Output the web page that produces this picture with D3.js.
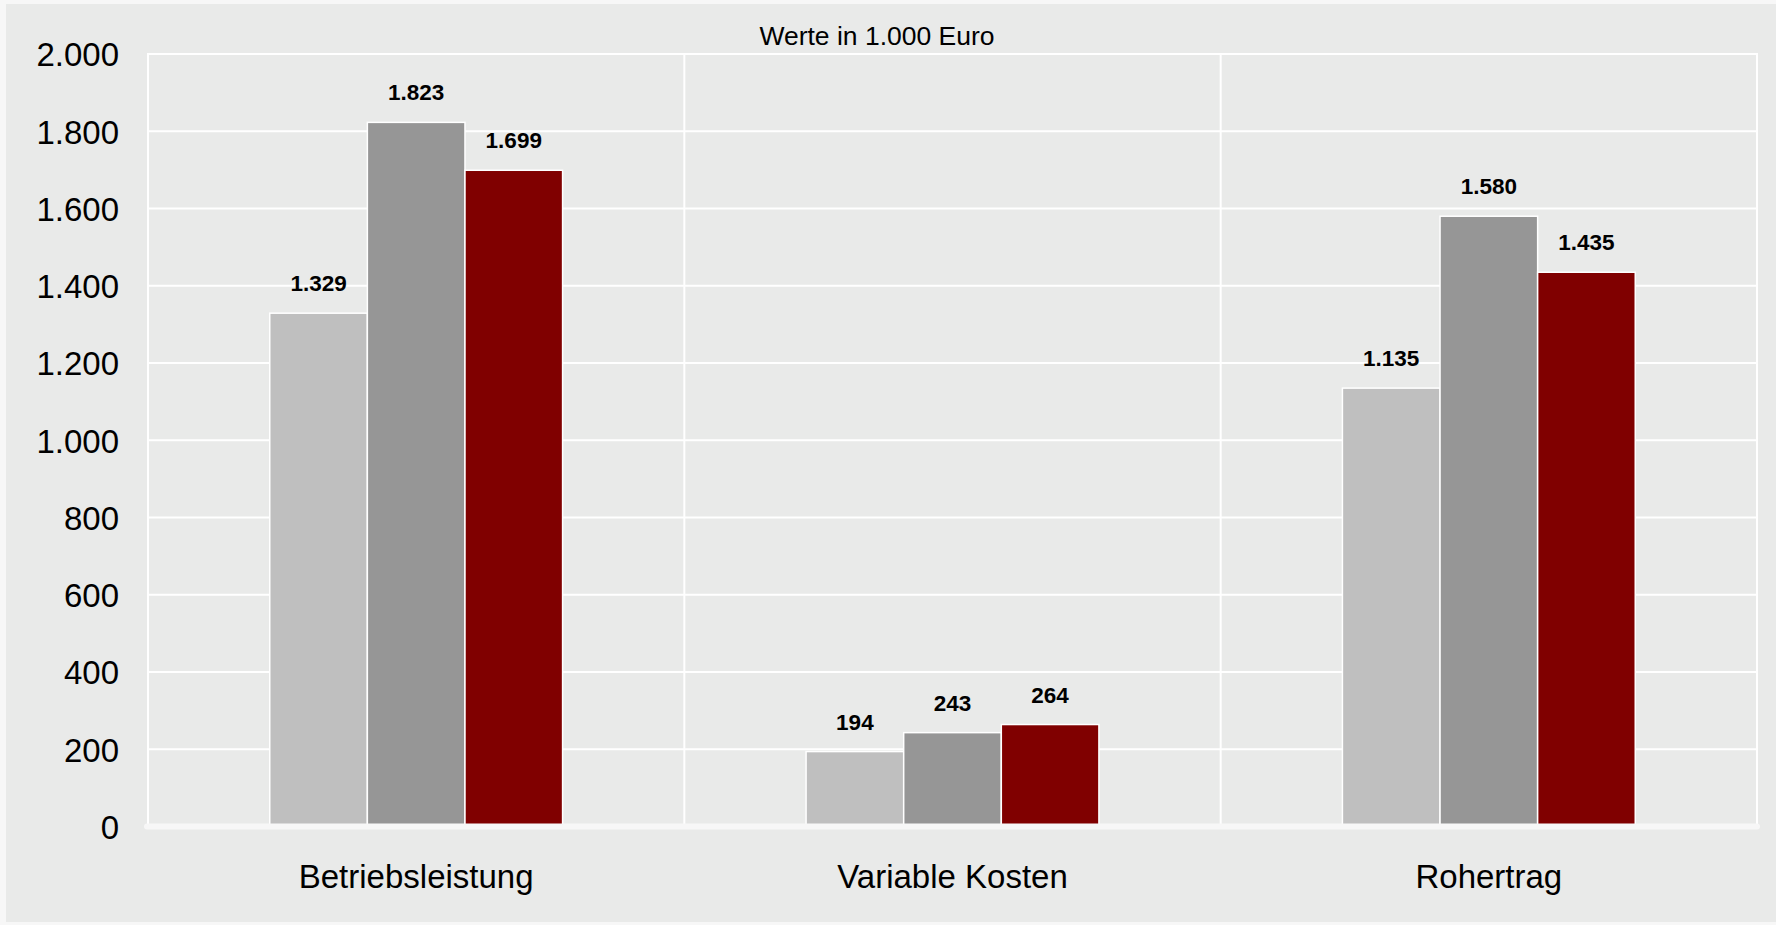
<!DOCTYPE html>
<html>
<head>
<meta charset="utf-8">
<script src="https://cdn.jsdelivr.net/npm/d3@7/dist/d3.min.js"></script>
<style>
  html, body { margin: 0; padding: 0; background: #f7f7f7; }
  svg { display: block; }
  text { font-family: "Liberation Sans", Arial, sans-serif; fill: #000; }
</style>
</head>
<body>
<svg id="chart" width="1776" height="925"></svg>
<script>
// ---- data ----
const categories = ["Betriebsleistung", "Variable Kosten", "Rohertrag"];
const seriesNames = ["Serie 1", "Serie 2", "Serie 3"];
const series1 = [1329, 194, 1135];
const series2 = [1823, 243, 1580];
const series3 = [1699, 264, 1435];
const seriesColors = ["#bfbfbf", "#969696", "#800000"];
const yTicks = [0, 200, 400, 600, 800, 1000, 1200, 1400, 1600, 1800, 2000];
const title = "Werte in 1.000 Euro";

const allSeries = [series1, series2, series3];
const fmt = v => d3.format(",")(v).replace(/,/g, ".");

const svg = d3.select("#chart");
const W = 1776, H = 925;

// chart background
svg.append("rect").attr("x", 6).attr("y", 4).attr("width", W - 6).attr("height", H - 7)
  .attr("fill", "#e9eae9");

const plot = { left: 148, right: 1757, top: 54, bottom: 826.5 };

const x0 = d3.scaleBand().domain(categories).range([plot.left, plot.right]).paddingInner(0).paddingOuter(0);
const groupW = x0.bandwidth() * 0.546;
const x1 = d3.scaleBand().domain(d3.range(seriesNames.length)).range([0, groupW]).padding(0);
const y = d3.scaleLinear().domain([0, 2000]).range([plot.bottom, plot.top]);

// horizontal gridlines
svg.append("g").selectAll("line").data(yTicks.filter(t => t > 0)).join("line")
  .attr("x1", plot.left).attr("x2", plot.right)
  .attr("y1", d => y(d)).attr("y2", d => y(d))
  .attr("stroke", "#ffffff").attr("stroke-width", 2);

// vertical lines (axis + category separators + right edge)
const vx = [plot.left].concat(categories.map(c => x0(c) + x0.bandwidth()));
svg.append("g").selectAll("line").data(vx).join("line")
  .attr("x1", d => d).attr("x2", d => d)
  .attr("y1", plot.top - 1).attr("y2", plot.bottom)
  .attr("stroke", "#ffffff").attr("stroke-width", 2);

// bars
const rows = [];
categories.forEach((c, ci) => allSeries.forEach((s, si) => rows.push({ c, si, v: s[ci] })));
const gx = c => x0(c) + (x0.bandwidth() - groupW) / 2;

svg.append("g").selectAll("rect").data(rows).join("rect")
  .attr("x", d => gx(d.c) + x1(d.si))
  .attr("y", d => y(d.v))
  .attr("width", x1.bandwidth())
  .attr("height", d => y(0) - y(d.v))
  .attr("fill", d => seriesColors[d.si])
  .attr("stroke", "#ffffff").attr("stroke-width", 1.5);

// zero axis line
svg.append("line")
  .attr("x1", plot.left - 1).attr("x2", plot.right)
  .attr("y1", y(0)).attr("y2", y(0))
  .attr("stroke", "#f7f7f7").attr("stroke-width", 6).attr("stroke-linecap", "round");

// value labels
svg.append("g").selectAll("text").data(rows).join("text")
  .attr("x", d => gx(d.c) + x1(d.si) + x1.bandwidth() / 2)
  .attr("y", d => y(d.v) - 22)
  .attr("text-anchor", "middle")
  .attr("font-size", "22.5px").attr("font-weight", "bold")
  .text(d => fmt(d.v));

// y axis labels
const yAxis = d3.axisLeft(y).tickValues(yTicks).tickFormat(fmt).tickSize(0).tickPadding(0);
const ya = svg.append("g").attr("transform", `translate(119,0)`).call(yAxis);
ya.select(".domain").remove();
ya.selectAll("text").attr("font-size", "33px").attr("font-family", "Liberation Sans, Arial, sans-serif")
  .attr("fill", "#000").attr("dy", "0.358em");

// x axis labels
const xAxis = d3.axisBottom(x0).tickSize(0).tickPadding(0);
const xa = svg.append("g").attr("transform", `translate(0,887.5)`).call(xAxis);
xa.select(".domain").remove();
xa.selectAll("text").attr("font-size", "33px").attr("font-family", "Liberation Sans, Arial, sans-serif")
  .attr("fill", "#000").attr("dy", "0").attr("y", 0);

// title
svg.append("text").attr("x", 877).attr("y", 45).attr("text-anchor", "middle")
  .attr("font-size", "26.5px").text(title);
</script>
</body>
</html>
